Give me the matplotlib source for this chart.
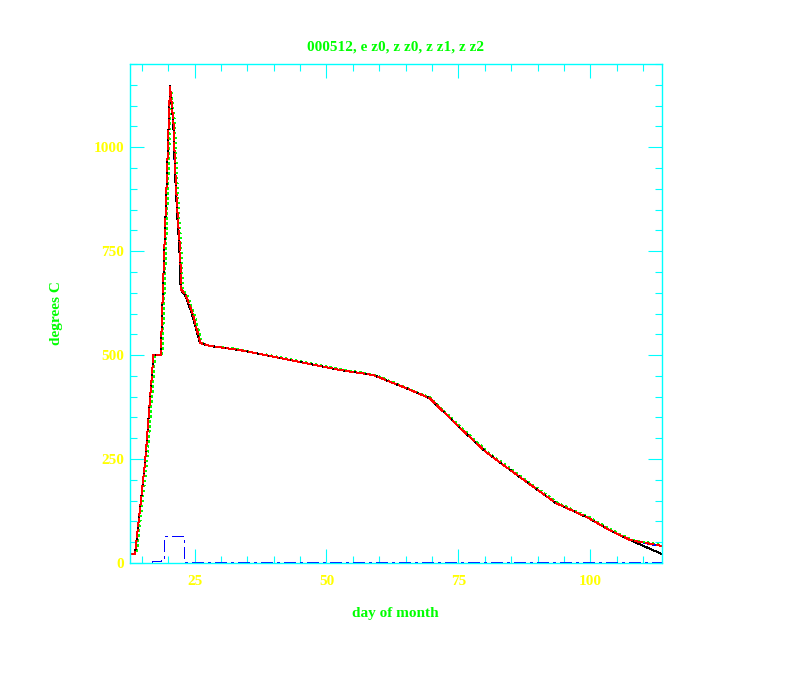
import matplotlib
matplotlib.use("Agg")
import matplotlib.pyplot as plt
from matplotlib.ticker import MultipleLocator

plt.rcParams["lines.scale_dashes"] = False

# ---- data ----
title = "000512, e z0, z z0, z z1, z z2"
x_label = "day of month"
y_label = "degrees C"

day_z0 = [12.66, 13.7, 15.6, 17.2, 18.57, 20.34, 20.96, 21.28, 21.72, 22.1, 22.36,
          23.18, 24.45, 26.02, 27.9, 33.6, 43.1, 52.6, 58.9, 62.0, 65.2, 69.6,
          74.7, 80.2, 86.6, 93.5, 99.7, 103.5, 107.6, 113.5]
temp_z0 = [21, 21, 240, 500, 500, 1147, 1057, 938, 833, 761, 657,
           645, 601, 529, 522, 512, 488, 464, 452, 436, 420, 396,
           332, 267, 207, 144, 108, 80, 55, 22]

day_z1 = [12.66, 13.7, 15.6, 17.2, 18.57, 20.34, 21.0, 21.35, 21.8, 22.2, 22.5,
          23.3, 24.6, 26.1, 27.9, 33.6, 43.1, 52.6, 58.9, 62.0, 65.2, 69.6,
          74.7, 80.2, 86.6, 93.5, 99.7, 103.5, 107.6, 113.5]
temp_z1 = [21, 21, 240, 500, 500, 1147, 1057, 938, 833, 761, 657,
           645, 601, 529, 522, 512, 488, 464, 452, 436, 420, 396,
           332, 267, 207, 144, 108, 80, 55, 41]

day_z2 = [12.66, 14.0, 16.0, 17.55, 18.9, 20.6, 21.3, 21.65, 22.1, 22.5, 22.8,
          23.6, 24.9, 26.4, 28.2, 33.6, 43.1, 52.6, 58.9, 62.0, 65.2, 69.6,
          74.9, 80.4, 86.8, 93.7, 99.9, 103.7, 107.8, 113.5]
temp_z2 = [21, 21, 240, 500, 500, 1135, 1057, 938, 833, 761, 657,
           645, 601, 529, 522, 514, 490, 466, 454, 438, 422, 398,
           334, 269, 209, 146, 110, 82, 57, 43]

day_e0 = [12.66, 13.7, 15.6, 17.2, 18.57, 20.34, 20.96, 21.28, 21.72, 22.1, 22.36,
          23.18, 24.45, 26.02, 27.9, 33.6, 43.1, 52.6, 58.9, 62.0, 65.2, 69.6,
          74.7, 80.2, 86.6, 93.5, 99.7, 103.5, 107.6, 113.5]
temp_e0 = [21, 21, 240, 500, 500, 1147, 1057, 938, 833, 761, 657,
           645, 601, 529, 522, 512, 488, 464, 452, 436, 420, 396,
           332, 267, 207, 144, 108, 80, 55, 40]

day_low = [12.66, 16.9, 18.6, 19.2, 22.9, 113.5]
temp_low = [0, 4, 10, 65, 3, 3]

x_major = [25, 50, 75, 100]
y_major = [0, 250, 500, 750, 1000]

# ---- figure ----
fig = plt.figure(figsize=(7.92, 6.84), dpi=100)
ax = fig.add_axes([129.5 / 792, 1 - 563 / 684, (661.5 - 129.5) / 792, (563 - 64) / 684])

font = dict(family=["Liberation Serif", "DejaVu Serif"], weight="bold", size=11)
lw = 0.72
dashdot = (0, (8.5, 3, 1.5, 3))

ax.plot(day_e0, temp_e0, color="#0000ff", lw=lw, ls=dashdot, antialiased=False)
ax.plot(day_z2, temp_z2, color="#00ff00", lw=lw, ls=(0, (1.4, 2.2)), antialiased=False)
ax.plot(day_z0, temp_z0, color="#000000", lw=lw, antialiased=False)
ax.plot(day_z1, temp_z1, color="#ff0000", lw=lw, ls=(0, (6, 1.5)), antialiased=False)
ax.plot(day_low, temp_low, color="#0000ff", lw=lw, ls=dashdot,
        drawstyle="steps-post", antialiased=False)

ax.set_xlim(12.66, 113.5)
ax.set_ylim(0, 1200)
ax.set_xticks(x_major)
ax.set_yticks(y_major)
ax.xaxis.set_minor_locator(MultipleLocator(5))
ax.yaxis.set_minor_locator(MultipleLocator(50))

for sp in ax.spines.values():
    sp.set_color("#00ffff")
    sp.set_linewidth(1.0)

ax.tick_params(which="both", direction="in", top=True, right=True, color="#00ffff",
               width=0.8, labelcolor="#ffff00")
ax.tick_params(which="major", length=10)
ax.tick_params(which="minor", length=5)
ax.tick_params(axis="x", which="major", pad=8.5)
ax.tick_params(axis="y", which="major", pad=4)
for lab in ax.get_xticklabels() + ax.get_yticklabels():
    lab.set_fontfamily(font["family"])
    lab.set_fontweight("bold")
    lab.set_fontsize(11)

ax.set_title(title, color="#00ff00", pad=10, **font)
ax.set_xlabel(x_label, color="#00ff00", labelpad=14, **font)
ax.set_ylabel(y_label, color="#00ff00", labelpad=22, **font)

fig.savefig("out.png", dpi=100)
